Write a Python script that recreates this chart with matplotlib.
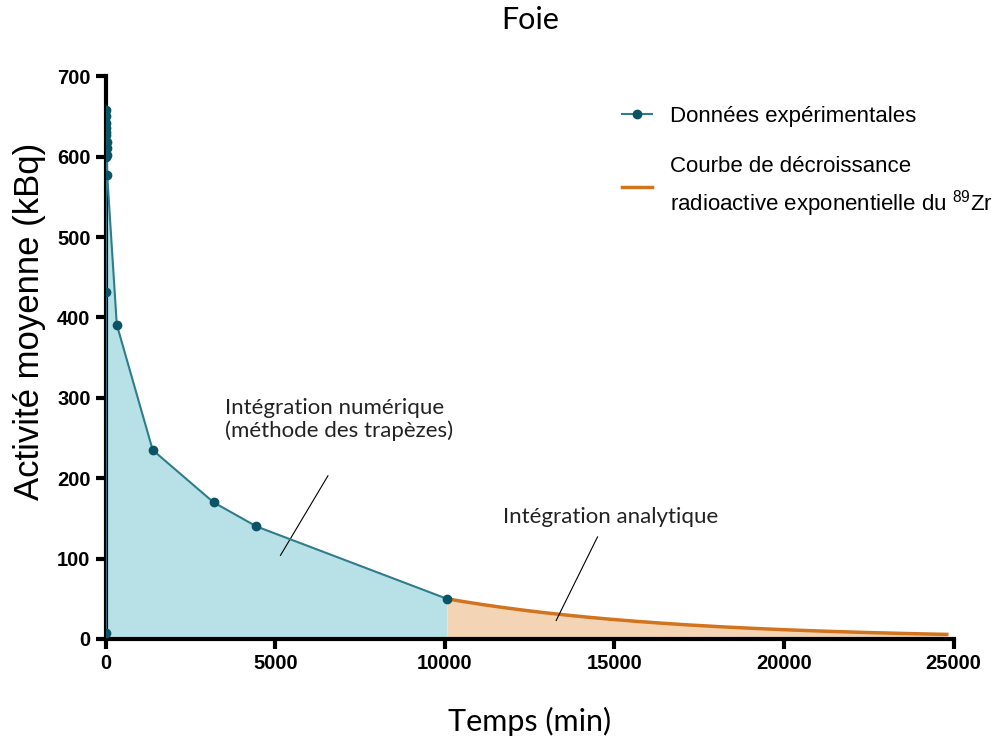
import numpy as np
import matplotlib.pyplot as plt

plt.rcParams['font.family'] = ['Liberation Sans', 'DejaVu Sans']
plt.rcParams['mathtext.fontset'] = 'custom'
plt.rcParams['mathtext.rm'] = 'Liberation Sans'

# Activité moyenne mesurée dans le foie (kBq) en fonction du temps (min)
temps = [0, 1, 2, 3, 5, 7, 10, 12, 15, 20, 25, 30, 40,
         323, 1382, 3176, 4441, 10059]
activite = [8, 432, 600, 630, 658, 650, 642, 635, 627, 618, 611, 602, 577,
            391, 235, 170, 140, 50]

# Décroissance radioactive du 89Zr après le dernier point mesuré
demi_vie_zr89 = 78.41 * 60  # min
t_fin = 24800
t_exp = np.linspace(temps[-1], t_fin, 200)
a_exp = activite[-1] * np.exp(-np.log(2) * (t_exp - temps[-1]) / demi_vie_zr89)

fig, ax = plt.subplots(figsize=(10.08, 7.4), dpi=100)
fig.subplots_adjust(left=0.105, right=0.946, bottom=0.1365, top=0.897)

ax.fill_between(temps, activite, 0, color='#b7e1e6', lw=0)
ax.fill_between(t_exp, a_exp, 0, color='#f3d5b6', lw=0)
ax.plot(temps, activite, color='#2f7d8c', lw=1.5, marker='o', ms=6,
        mfc='#0b5466', mec='#0b5466', label='Données expérimentales', zorder=3)
ax.plot(t_exp, a_exp, color='#d2731e', lw=2.5,
        label='Courbe de décroissance\nradioactive exponentielle du $^{89}$Zr', zorder=2)

ax.set_xlim(0, 25000)
ax.set_ylim(0, 700)
ax.set_xticks(range(0, 25001, 5000))
ax.set_yticks(range(0, 701, 100))
for side in ['top', 'right']:
    ax.spines[side].set_visible(False)
for side in ['left', 'bottom']:
    ax.spines[side].set_linewidth(3)
ax.tick_params(width=3, length=7, labelsize=14.5, pad=4)
for lab in ax.get_xticklabels() + ax.get_yticklabels():
    lab.set_fontweight('bold')

calibri = ['Lato', 'DejaVu Sans']
ax.set_xlabel('Temps (min)', fontsize=22, family=calibri, labelpad=24)
ax.set_ylabel('Activité moyenne (kBq)', fontsize=25)
ax.yaxis.set_label_coords(-0.071, 0.565)
ax.set_title('Foie', fontsize=22, family=calibri, pad=34)

leg = fig.legend(loc='upper left', bbox_to_anchor=(0.617, 0.857), frameon=False,
                 fontsize=16, handlelength=1.35, labelspacing=1.3, handletextpad=0.8,
                 borderpad=0, borderaxespad=0)
leg.get_texts()[1].set_linespacing(1.5)

# Annotations des deux méthodes d'intégration
note = dict(fontsize=16, family=calibri, color='#222222')
ax.text(3500, 273, 'Intégration numérique\n(méthode des trapèzes)', va='center', **note)
ax.plot([6550, 5150], [203, 104], color='black', lw=0.8)
ax.text(11700, 152, 'Intégration analytique', va='center', **note)
ax.plot([14500, 13280], [127, 23], color='black', lw=0.8)

fig.savefig('out.png')
